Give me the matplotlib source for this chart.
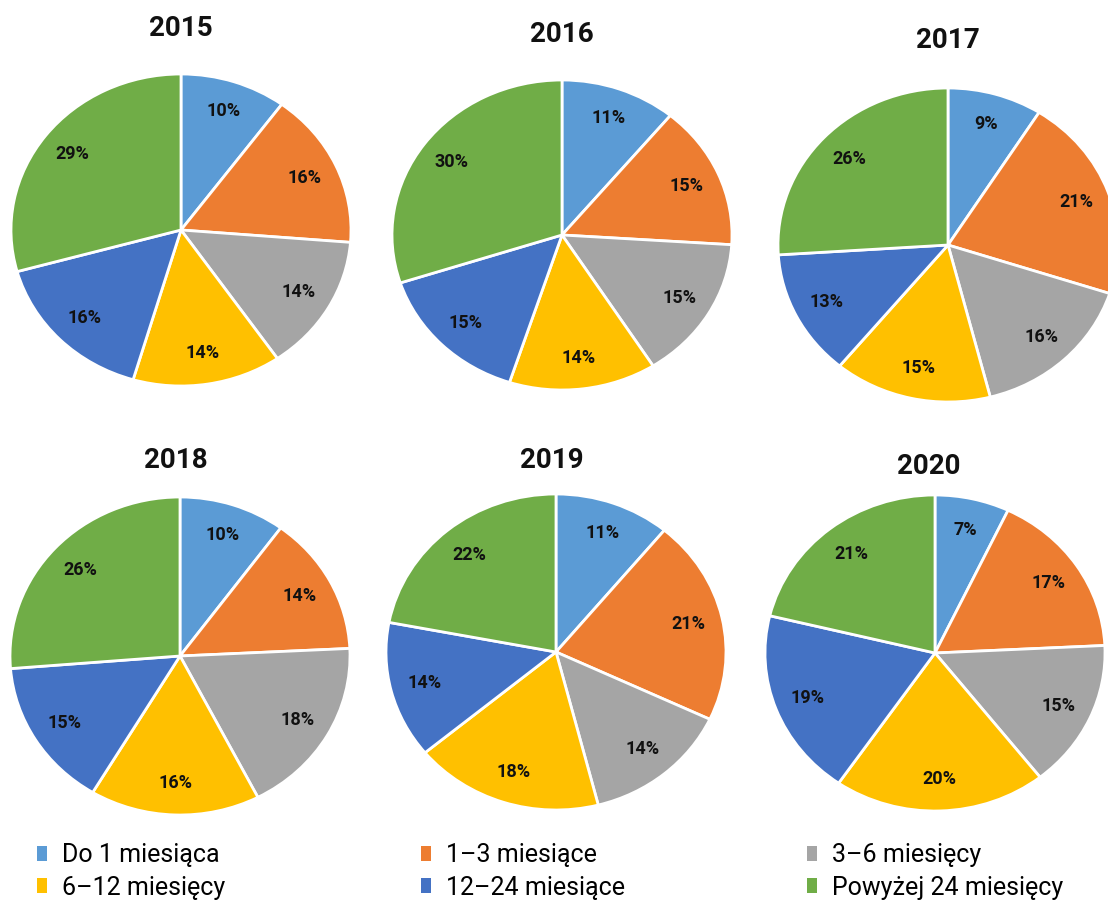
import matplotlib
matplotlib.use('Agg')

import matplotlib.pyplot as plt
from matplotlib.patches import Patch

plt.rcParams['font.family'] = ['Roboto', 'DejaVu Sans']

years = ['2015', '2016', '2017', '2018', '2019', '2020']
categories = ['Do 1 miesiąca', '1–3 miesiące', '3–6 miesięcy',
              '6–12 miesięcy', '12–24 miesiące', 'Powyżej 24 miesięcy']
colors = ['#5B9BD5', '#ED7D31', '#A5A5A5', '#FFC000', '#4472C4', '#70AD47']

share_2015 = [10, 16, 14, 14, 16, 29]
share_2016 = [11, 15, 15, 14, 15, 30]
share_2017 = [9, 21, 16, 15, 13, 26]
share_2018 = [10, 14, 18, 16, 15, 26]
share_2019 = [11, 21, 14, 18, 14, 22]
share_2020 = [7, 17, 15, 20, 19, 21]
shares = [share_2015, share_2016, share_2017, share_2018, share_2019, share_2020]

W, H = 1108, 902
fig = plt.figure(figsize=(W / 100, H / 100), dpi=100)

# pie centre (px), radius x/y (px), title position (px)
layout = [
    ((181, 230), (170, 156), (181, 28)),
    ((562, 235), (170, 155), (562, 35)),
    ((948, 245), (170, 157), (948, 40)),
    ((180, 656), (170, 159), (176, 460)),
    ((556, 652), (170, 158), (552, 461)),
    ((935, 653), (170, 158), (929, 467)),
]

for year, vals, ((cx, cy), (rx, ry), (tx, ty)) in zip(years, shares, layout):
    ax = fig.add_axes([(cx - rx) / W, (H - cy - ry) / H, 2 * rx / W, 2 * ry / H])
    wedges, texts = ax.pie(vals, colors=colors, startangle=90, counterclock=False,
                           labels=[f'{v}%' for v in vals], labeldistance=0.8,
                           wedgeprops=dict(edgecolor='white', linewidth=2),
                           textprops=dict(fontsize=13, fontweight='bold', color='#111111'))
    for t in texts:
        t.set_horizontalalignment('center')
        t.set_verticalalignment('center')
    ax.set_aspect('auto')
    ax.set_xlim(-1, 1)
    ax.set_ylim(-1, 1)
    ax.axis('off')
    fig.text(tx / W, 1 - ty / H, year, ha='center', va='center',
             fontsize=20, fontweight='bold', color='#111111')

# legend: three columns of two entries
handles = [Patch(facecolor=c, edgecolor='none') for c in colors]
for col, x in enumerate([37, 421, 807]):
    idx = [col, col + 3]
    fig.legend([handles[i] for i in idx], [categories[i] for i in idx],
               loc='upper left', bbox_to_anchor=(x / W, 1 - 843 / H),
               frameon=False, fontsize=18, handlelength=0.4, handleheight=0.55,
               handletextpad=0.6, labelspacing=0.35, borderaxespad=0, borderpad=0)

fig.savefig('out.png', dpi=100)
